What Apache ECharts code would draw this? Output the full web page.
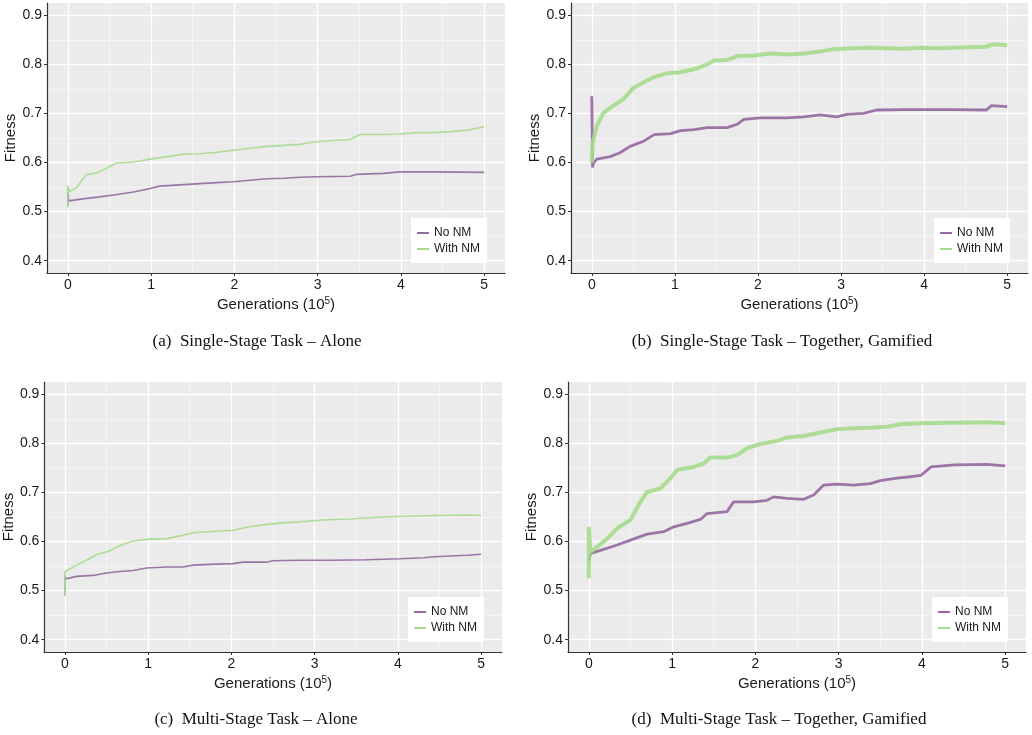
<!DOCTYPE html>
<html>
<head>
<meta charset="utf-8">
<script src="https://cdn.jsdelivr.net/npm/echarts@6/dist/echarts.min.js"></script>
<style>html,body{margin:0;padding:0;background:#fff}#c{width:1032px;height:735px}</style>
</head>
<body>
<div id="c"></div>
<script>
// ---- Data (x in units of 10^5 generations) ----
const xTicks = [0, 1, 2, 3, 4, 5];
const yTicks = [0.4, 0.5, 0.6, 0.7, 0.8, 0.9];
const seriesNames = ['No NM', 'With NM'];
const captions = [
  '(a)  Single-Stage Task \u2013 Alone',
  '(b)  Single-Stage Task \u2013 Together, Gamified',
  '(c)  Multi-Stage Task \u2013 Alone',
  '(d)  Multi-Stage Task \u2013 Together, Gamified'
];

const aNoNM = [[0,0.512],[0,0.540],[0.01,0.522],[0.18,0.526],[0.38,0.530],[0.59,0.535],[0.79,0.540],[0.99,0.547],[1.1,0.552],[1.39,0.555],[1.59,0.557],[1.79,0.559],[1.99,0.561],[2.19,0.564],[2.39,0.567],[2.59,0.568],[2.79,0.570],[2.99,0.571],[3.39,0.572],[3.47,0.576],[3.79,0.578],[3.99,0.581],[4.39,0.581],[5,0.580]];
const aWithNM = [[0,0.508],[0,0.552],[0.02,0.541],[0.1,0.548],[0.22,0.575],[0.35,0.579],[0.47,0.589],[0.59,0.599],[0.79,0.601],[0.99,0.607],[1.19,0.612],[1.39,0.617],[1.59,0.618],[1.79,0.621],[1.99,0.625],[2.19,0.629],[2.39,0.633],[2.59,0.635],[2.79,0.637],[2.95,0.642],[3.19,0.645],[3.39,0.647],[3.51,0.657],[3.79,0.657],[3.99,0.658],[4.19,0.661],[4.39,0.661],[4.60,0.663],[4.80,0.666],[5,0.673]];

const bNoNM = [[0,0.735],[0.01,0.590],[0.02,0.599],[0.06,0.607],[0.22,0.612],[0.34,0.620],[0.46,0.633],[0.63,0.644],[0.75,0.657],[0.95,0.659],[1.07,0.665],[1.23,0.667],[1.39,0.671],[1.63,0.671],[1.75,0.678],[1.83,0.688],[2.03,0.691],[2.35,0.691],[2.55,0.693],[2.75,0.697],[2.95,0.693],[3.07,0.698],[3.27,0.700],[3.43,0.707],[3.75,0.708],[4.35,0.708],[4.75,0.707],[4.81,0.716],[5,0.714]];
const bWithNM = [[0,0.600],[0.01,0.640],[0.06,0.674],[0.14,0.701],[0.26,0.716],[0.38,0.729],[0.5,0.752],[0.63,0.764],[0.75,0.774],[0.91,0.782],[1.07,0.784],[1.23,0.790],[1.39,0.800],[1.47,0.808],[1.63,0.809],[1.75,0.817],[1.95,0.818],[2.15,0.822],[2.35,0.820],[2.55,0.822],[2.75,0.826],[2.91,0.831],[3.15,0.833],[3.35,0.834],[3.55,0.833],[3.75,0.832],[3.95,0.834],[4.15,0.833],[4.35,0.834],[4.55,0.835],[4.75,0.836],[4.83,0.841],[5,0.839]];

const cNoNM = [[0,0.490],[0,0.530],[0.01,0.524],[0.14,0.529],[0.34,0.531],[0.5,0.536],[0.66,0.539],[0.82,0.541],[0.98,0.546],[1.22,0.548],[1.42,0.548],[1.54,0.552],[1.82,0.554],[2.02,0.555],[2.14,0.558],[2.42,0.558],[2.5,0.561],[2.82,0.562],[3.22,0.562],[3.62,0.563],[4.03,0.565],[4.31,0.567],[4.43,0.569],[4.83,0.572],[5,0.574]];
const cWithNM = [[0,0.490],[0,0.538],[0.02,0.536],[0.14,0.552],[0.26,0.562],[0.38,0.573],[0.54,0.581],[0.66,0.592],[0.82,0.601],[1.02,0.605],[1.22,0.606],[1.42,0.613],[1.54,0.618],[1.82,0.621],[2.02,0.623],[2.22,0.630],[2.42,0.635],[2.62,0.638],[2.82,0.640],[3.02,0.643],[3.22,0.645],[3.42,0.646],[3.62,0.648],[3.82,0.650],[4.03,0.651],[4.43,0.653],[4.83,0.654],[5,0.653]];

const dNoNM = [[0,0.560],[0.02,0.576],[0.14,0.582],[0.34,0.593],[0.5,0.603],[0.7,0.615],[0.9,0.620],[1.02,0.630],[1.18,0.637],[1.34,0.645],[1.42,0.657],[1.66,0.661],[1.74,0.681],[1.98,0.681],[2.14,0.684],[2.22,0.691],[2.38,0.688],[2.58,0.686],[2.7,0.695],[2.82,0.715],[2.98,0.717],[3.18,0.715],[3.38,0.718],[3.5,0.724],[3.7,0.729],[3.86,0.732],[3.99,0.735],[4.11,0.752],[4.39,0.756],[4.79,0.757],[5,0.754]];
const dWithNM = [[0,0.525],[0,0.630],[0.02,0.579],[0.1,0.589],[0.22,0.606],[0.34,0.627],[0.5,0.644],[0.62,0.681],[0.7,0.701],[0.86,0.708],[0.98,0.729],[1.06,0.746],[1.26,0.752],[1.38,0.759],[1.46,0.771],[1.66,0.771],[1.78,0.776],[1.9,0.790],[2.06,0.799],[2.26,0.805],[2.38,0.812],[2.58,0.815],[2.78,0.822],[2.98,0.829],[3.18,0.831],[3.38,0.832],[3.58,0.834],[3.74,0.839],[3.99,0.841],[4.39,0.842],[4.79,0.843],[5,0.841]];

const panelData = [[aNoNM, aWithNM], [bNoNM, bWithNM], [cNoNM, cWithNM], [dNoNM, dWithNM]];

// ---- Layout / style ----
const panels = [
  {L: 47, T: 3, W: 458, H: 270, legend: [411, 218], cap: [257, 342], lw: [1.6, 1.6]},
  {L: 571, T: 3, W: 457, H: 270, legend: [934, 218], cap: [782, 342], lw: [2.8, 4]},
  {L: 44, T: 382, W: 458, H: 270, legend: [408, 597], cap: [256, 720], lw: [1.6, 1.6]},
  {L: 568, T: 382, W: 458, H: 270, legend: [932, 597], cap: [779, 720], lw: [2.8, 4]}
];
const colors = ['#9468A0', '#A6DB8C'];
const xMin = -0.25, xMax = 5.25, yMin = 0.375, yMax = 0.925;
const sans = 'Liberation Sans';
const txt = '#1a1a1a';

const grid = [], xAxis = [], yAxis = [], series = [], legend = [], graphic = [];

panels.forEach((p, i) => {
  const ux = p.W / (xMax - xMin), uy = p.H / (yMax - yMin);
  const base = i * 3;
  grid.push({left: p.L, top: p.T, width: p.W, height: p.H, show: true, backgroundColor: '#EBEBEB', borderWidth: 0});
  grid.push({left: p.L + (0 - xMin) * ux, top: p.T, width: 5 * ux, height: p.H, show: false});
  grid.push({left: p.L, top: p.T + (yMax - 0.9) * uy, width: p.W, height: 0.5 * uy, show: false});

  xAxis.push({gridIndex: base, type: 'value', min: xMin, max: xMax, axisLine: {show: true, onZero: false, lineStyle: {color: '#333', width: 1.2}}, axisTick: {show: false}, axisLabel: {show: false}, splitLine: {show: false}});
  yAxis.push({gridIndex: base, type: 'value', min: yMin, max: yMax, axisLine: {show: true, onZero: false, lineStyle: {color: '#333', width: 1.2}}, axisTick: {show: false}, axisLabel: {show: false}, splitLine: {show: false}});

  xAxis.push({gridIndex: base + 1, type: 'value', min: xTicks[0], max: xTicks[xTicks.length - 1], interval: 1,
    axisLine: {show: false, onZero: false}, axisTick: {show: true, length: 3, lineStyle: {color: '#333'}},
    axisLabel: {show: true, margin: 5, fontFamily: sans, fontSize: 14, color: txt},
    splitLine: {show: true, lineStyle: {color: '#FFFFFF', width: 1.3}},
    minorTick: {show: false, splitNumber: 2},
    minorSplitLine: {show: true, lineStyle: {color: '#F6F6F6', width: 0.8}},
    name: '{t|Generations (10}{s|5}{t|)}', nameLocation: 'middle', nameGap: 23,
    nameTextStyle: {rich: {t: {fontFamily: sans, fontSize: 15, color: txt, lineHeight: 18}, s: {fontFamily: sans, fontSize: 10, color: txt, verticalAlign: 'top', lineHeight: 18, padding: [0, 0, 8, 0]}}}
  });
  yAxis.push({gridIndex: base + 1, type: 'value', min: yMin, max: yMax, show: false});

  xAxis.push({gridIndex: base + 2, type: 'value', min: xMin, max: xMax, show: false});
  yAxis.push({gridIndex: base + 2, type: 'value', min: yTicks[0], max: yTicks[yTicks.length - 1], interval: 0.1,
    axisLine: {show: false, onZero: false}, axisTick: {show: true, length: 3, lineStyle: {color: '#333'}},
    axisLabel: {show: true, margin: 5, fontFamily: sans, fontSize: 14, color: txt, formatter: v => v.toFixed(1)},
    splitLine: {show: true, lineStyle: {color: '#FFFFFF', width: 1.3}},
    minorTick: {show: false, splitNumber: 2},
    minorSplitLine: {show: true, lineStyle: {color: '#F6F6F6', width: 0.8}},
    name: 'Fitness', nameLocation: 'middle', nameGap: 28,
    nameTextStyle: {fontFamily: sans, fontSize: 15, color: txt}
  });

  panelData[i].forEach((d, k) => {
    series.push({
      type: 'line', name: seriesNames[k], xAxisIndex: base, yAxisIndex: base,
      data: d, showSymbol: false, symbol: 'none', clip: false, animation: false,
      lineStyle: {color: colors[k], width: p.lw[k], opacity: 0.9},
      itemStyle: {color: colors[k]}, z: 3 + k
    });
  });

  legend.push({
    data: seriesNames, orient: 'vertical', left: p.legend[0], top: p.legend[1],
    backgroundColor: '#FFFFFF', padding: [8, 7, 7, 6], itemGap: 2,
    itemWidth: 12, itemHeight: 2, icon: 'rect',
    textStyle: {fontFamily: sans, fontSize: 12, color: txt, lineHeight: 14},
    selectedMode: false
  });

  graphic.push({
    type: 'text', silent: true, x: p.cap[0], y: p.cap[1],
    style: {text: captions[i], x: 0, y: 0, textAlign: 'center', textVerticalAlign: 'middle', fontFamily: 'Liberation Serif', fontSize: 17, fill: '#111'}
  });
});

const chart = echarts.init(document.getElementById('c'), null, {renderer: 'canvas'});
chart.setOption({animation: false, grid, xAxis, yAxis, series, legend, graphic});
</script>
</body>
</html>
